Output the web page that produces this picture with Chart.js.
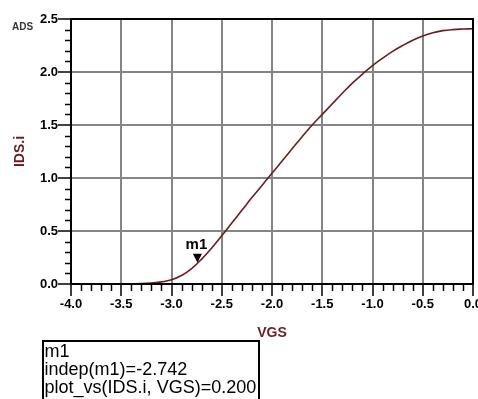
<!DOCTYPE html>
<html>
<head>
<meta charset="utf-8">
<script src="https://cdn.jsdelivr.net/npm/chart.js@4.4.1/dist/chart.umd.min.js"></script>
<style>
html,body{margin:0;padding:0;background:#fff;}
#wrap{width:478px;height:399px;position:relative;}
</style>
</head>
<body>
<div id="wrap"><canvas id="c" width="478" height="399"></canvas></div>
<script>
// ---- data ----
const vgs = [-4.0,-3.9,-3.8,-3.7,-3.6,-3.5,-3.4,-3.3,-3.2,-3.1,-3.0,-2.9,-2.8,-2.7,-2.6,-2.5,-2.4,-2.3,-2.2,-2.1,-2.0,-1.9,-1.8,-1.7,-1.6,-1.5,-1.4,-1.3,-1.2,-1.1,-1.0,-0.9,-0.8,-0.7,-0.6,-0.5,-0.4,-0.3,-0.2,-0.1,0.0];
const ids = [0,0,0,0,0,0.001,0.002,0.004,0.010,0.020,0.040,0.080,0.145,0.235,0.340,0.455,0.575,0.695,0.815,0.930,1.045,1.160,1.275,1.390,1.500,1.600,1.700,1.800,1.895,1.980,2.060,2.130,2.195,2.250,2.300,2.340,2.370,2.390,2.400,2.405,2.408];
const xTickLabels = ['-4.0','-3.5','-3.0','-2.5','-2.0','-1.5','-1.0','-0.5','0.0'];
const yTickLabels = ['0.0','0.5','1.0','1.5','2.0','2.5'];
const markerName = 'm1';
const markerX = -2.742;
const markerY = 0.200;
const markerLines = ['m1','indep(m1)=-2.742','plot_vs(IDS.i, VGS)=0.200'];
const xTitle = 'VGS';
const yTitle = 'IDS.i';
const yUnit = 'ADS';

const points = vgs.map((v,i)=>({x:v,y:ids[i]}));
const FONT = '"Liberation Sans", Arial, sans-serif';
const RED = '#6b1d20';

const extras = {
  id:'extras',
  beforeDatasetsDraw(chart){
    const {ctx, chartArea:a, scales:{x,y}} = chart;
    ctx.save();
    ctx.strokeStyle='#000'; ctx.lineWidth=1.5;
    for(let k=-40;k<=0;k++){
      const v=k/10; if(k%5===0) continue;
      const px=Math.round(x.getPixelForValue(v))+0.5;
      ctx.beginPath(); ctx.moveTo(px,a.bottom); ctx.lineTo(px,a.bottom+7); ctx.stroke();
    }
    for(let k=0;k<=25;k++){
      const v=k/10; if(k%5===0) continue;
      const py=Math.round(y.getPixelForValue(v))+0.5;
      ctx.beginPath(); ctx.moveTo(a.left,py); ctx.lineTo(a.left-6,py); ctx.stroke();
    }
    ctx.restore();
  },
  afterDraw(chart){
    const {ctx, chartArea:a, scales:{x,y}} = chart;
    ctx.save();
    ctx.strokeStyle='#000'; ctx.lineWidth=2;
    ctx.strokeRect(a.left,a.top,a.right-a.left,a.bottom-a.top);
    const mx=x.getPixelForValue(markerX), my=y.getPixelForValue(markerY);
    ctx.fillStyle='#000';
    ctx.beginPath(); ctx.moveTo(mx,my); ctx.lineTo(mx-4.5,my-9); ctx.lineTo(mx+4.5,my-9); ctx.closePath(); ctx.fill();
    ctx.font='bold 15px '+FONT; ctx.textAlign='center'; ctx.textBaseline='alphabetic';
    ctx.fillText(markerName, mx-1, my-14);
    ctx.fillStyle=RED; ctx.font='bold 14px '+FONT; ctx.textAlign='center'; ctx.textBaseline='middle';
    ctx.fillText(xTitle,(a.left+a.right)/2,333);
    ctx.save(); ctx.translate(20,(a.top+a.bottom)/2); ctx.rotate(-Math.PI/2);
    ctx.fillText(yTitle,0,0); ctx.restore();
    ctx.fillStyle='#333'; ctx.font='bold 10px '+FONT;
    ctx.fillText(yUnit,22.5,27);
    ctx.strokeStyle='#000'; ctx.lineWidth=2;
    ctx.beginPath(); ctx.moveTo(43,402); ctx.lineTo(43,341); ctx.lineTo(259,341); ctx.lineTo(259,402); ctx.stroke();
    ctx.fillStyle='#000'; ctx.textAlign='left'; ctx.textBaseline='alphabetic';
    let fs=17; ctx.font=fs+'px '+FONT;
    const w=ctx.measureText(markerLines[2]).width;
    fs=fs*212/w; ctx.font=fs.toFixed(2)+'px '+FONT;
    const bases=[357,374.5,392.5];
    markerLines.forEach((t,i)=>ctx.fillText(t,44.5,bases[i]));
    ctx.restore();
  }
};

new Chart(document.getElementById('c'),{
  type:'scatter',
  data:{datasets:[{data:points,showLine:true,borderColor:RED,borderWidth:1.6,pointRadius:0,tension:0.4,fill:false}]},
  options:{
    responsive:false,animation:false,
    layout:{padding:{left:0,right:5,top:19,bottom:85}},
    plugins:{legend:{display:false},tooltip:{enabled:false}},
    scales:{
      x:{type:'linear',min:-4,max:0,
        afterBuildTicks(s){s.ticks=xTickLabels.map(t=>({value:parseFloat(t)}));},
        ticks:{callback:(v,i)=>xTickLabels[i],font:{family:FONT,size:13,weight:'bold'},color:'#000',padding:1,maxRotation:0,autoSkip:false},
        grid:{color:'#858585',lineWidth:2,tickColor:'#000',tickLength:12,tickWidth:1.5},
        border:{color:'#000',width:2},
        afterFit(s){s.height=30;s.paddingLeft=0;s.paddingRight=0;}
      },
      y:{type:'linear',min:0,max:2.5,
        afterBuildTicks(s){s.ticks=yTickLabels.map(t=>({value:parseFloat(t)}));},
        ticks:{callback:(v,i)=>yTickLabels[i],font:{family:FONT,size:13,weight:'bold'},color:'#000',padding:0,autoSkip:false},
        grid:{color:'#858585',lineWidth:2,tickColor:'#000',tickLength:13,tickWidth:1.5},
        border:{color:'#000',width:2},
        afterFit(s){s.width=71;s.paddingTop=0;s.paddingBottom=0;}
      }
    }
  },
  plugins:[extras]
});
</script>
</body>
</html>
